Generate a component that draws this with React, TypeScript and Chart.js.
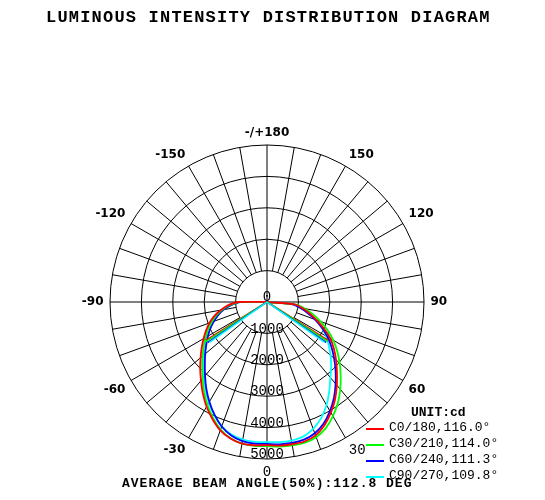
import { useEffect, useRef } from "react";
import { Chart, registerables, Plugin } from "chart.js";

Chart.register(...registerables);

// gamma angles (deg from nadir) that the intensity tables below are read at
const gammaSteps = [0, 5, 10, 15, 20, 25, 30, 35, 40, 45, 50, 55, 60, 65, 70, 75, 80, 85, 90];

// intensities in cd, right half of the diagram (C0, C30, C60, C90)
const c0 = [4560, 4590, 4600, 4600, 4520, 4330, 4070, 3780, 3460, 3150, 2870, 2600, 2330, 2000, 1680, 1400, 1150, 880, 0];
const c30 = [4590, 4620, 4640, 4640, 4580, 4430, 4200, 3930, 3630, 3320, 3020, 2730, 2440, 2130, 1820, 1520, 1230, 940, 0];
const c60 = [4520, 4550, 4560, 4540, 4450, 4270, 4010, 3720, 3400, 3090, 2790, 2510, 2230, 1930, 1620, 1330, 1070, 820, 0];
const c90 = [4460, 4480, 4480, 4440, 4300, 4080, 3790, 3460, 3140, 2890, 2640, 2400, 2170, 1920, 1650, 1370, 1110, 850, 0];

// left half of the diagram (C180, C210, C240, C270)
const c180 = [4560, 4580, 4580, 4500, 4350, 4110, 3850, 3560, 3270, 3010, 2760, 2540, 2330, 2140, 1950, 1740, 1500, 1250, 900];
const c210 = [4590, 4600, 4580, 4490, 4320, 4070, 3790, 3490, 3190, 2920, 2680, 2460, 2260, 2070, 1880, 1680, 1450, 1200, 880];
const c240 = [4520, 4530, 4500, 4400, 4220, 3960, 3670, 3370, 3070, 2800, 2570, 2360, 2170, 1990, 1800, 1610, 1400, 1150, 860];
const c270 = [4460, 4470, 4450, 4370, 4210, 3970, 3700, 3410, 3120, 2860, 2630, 2420, 2230, 2040, 1850, 1650, 1420, 1170, 860];

const seriesNames = ["C0/180", "C30/210", "C60/240", "C90/270"];
const beamAngles = [116.0, 114.0, 111.3, 109.8];
const halfIntensity = [2300, 2320, 2280, 2240];
const seriesColors = ["#ff0000", "#00ff00", "#0000ff", "#00ffff"];

const radialTicks = [0, 1000, 2000, 3000, 4000, 5000];
const angleTickLabels = ["0", "-30", "-60", "-90", "-120", "-150", "-/+180", "150", "120", "90", "60", "30"];

const titleText = "LUMINOUS INTENSITY DISTRIBUTION DIAGRAM";
const unitText = "UNIT:cd";
const footerText = "AVERAGE BEAM ANGLE(50%):112.8 DEG";

const STEP = 5;
const SLOTS = 360 / STEP;
// slot i runs clockwise from the bottom: left half first, then the right half
const directions = Array.from({ length: SLOTS }, (_, i) => (i <= SLOTS / 2 ? -STEP * i : 360 - STEP * i));

const MONO = '"Liberation Mono", "DejaVu Sans Mono", monospace';
const SANS = '"DejaVu Sans", sans-serif';
const GRID = "#000";

function valueAt(table: number[], gamma: number) {
  const k = gammaSteps.indexOf(gamma);
  return k < 0 ? 0 : table[k];
}

function planeData(right: number[], left: number[]) {
  return directions.map((d) => (d <= 0 ? valueAt(left, -d) : valueAt(right, d)));
}

const decor: Plugin<"radar"> = {
  id: "decor",
  beforeDatasetsDraw(chart) {
    const scale: any = chart.scales.r;
    const ctx = chart.ctx;
    const inner = scale.getDistanceFromCenterForValue(radialTicks[1]);
    const outer = scale.getDistanceFromCenterForValue(radialTicks[radialTicks.length - 1]);
    ctx.save();
    ctx.strokeStyle = GRID;
    ctx.lineWidth = 1;
    for (let i = 0; i < SLOTS; i += 2) {
      const from = i % (SLOTS / 4) === 0 ? 0 : inner;
      const a = scale.getPointPosition(i, from);
      const b = scale.getPointPosition(i, outer);
      ctx.beginPath();
      ctx.moveTo(a.x, a.y);
      ctx.lineTo(b.x, b.y);
      ctx.stroke();
    }
    ctx.restore();
  },
  afterDatasetsDraw(chart) {
    const scale: any = chart.scales.r;
    const ctx = chart.ctx;
    const cx = scale.xCenter;
    const cy = scale.yCenter;
    ctx.save();

    // beam angle lines (50% points)
    ctx.lineWidth = 1.5;
    beamAngles.forEach((beam, s) => {
      const half = beam / 2 / STEP;
      const dist = scale.getDistanceFromCenterForValue(halfIntensity[s]);
      ctx.strokeStyle = seriesColors[s];
      [half, SLOTS - half].forEach((idx) => {
        const p = scale.getPointPosition(idx, dist);
        ctx.beginPath();
        ctx.moveTo(cx, cy);
        ctx.lineTo(p.x, p.y);
        ctx.stroke();
      });
    });

    ctx.fillStyle = "#000";

    // radial tick labels along the nadir
    ctx.font = `14px ${MONO}`;
    ctx.textAlign = "center";
    ctx.textBaseline = "middle";
    radialTicks.forEach((v) => {
      const p = scale.getPointPosition(0, scale.getDistanceFromCenterForValue(v));
      ctx.fillText(String(v), p.x, p.y - 4.5);
    });

    // angle labels every 30 deg
    const labelR = scale.drawingArea + 6.5;
    angleTickLabels.forEach((text, k) => {
      const idx = k * 6;
      const p = scale.getPointPosition(idx, labelR);
      const deg = (idx * STEP) % 360;
      const mono = text === "0" || text === "30";
      ctx.font = mono ? `14px ${MONO}` : `bold 12px ${SANS}`;
      if (deg === 0 || deg === 180) ctx.textAlign = "center";
      else ctx.textAlign = deg < 180 ? "right" : "left";
      if (deg === 90 || deg === 270) ctx.textBaseline = "middle";
      else ctx.textBaseline = deg < 90 || deg > 270 ? "top" : "bottom";
      ctx.fillText(text, p.x, p.y);
    });

    // title
    ctx.textAlign = "left";
    ctx.textBaseline = "middle";
    ctx.font = `bold 17px ${MONO}`;
    (ctx as any).letterSpacing = "1.2px";
    ctx.fillText(titleText, 46, 18);

    // footer
    ctx.font = `bold 13px ${MONO}`;
    (ctx as any).letterSpacing = "1px";
    ctx.fillText(footerText, 122, 484);

    // legend
    (ctx as any).letterSpacing = "0px";
    ctx.font = `bold 13px ${MONO}`;
    ctx.fillText(unitText, 411, 412.5);
    ctx.font = `13px ${MONO}`;
    seriesNames.forEach((name, s) => {
      const y = 428 + s * 16;
      ctx.strokeStyle = seriesColors[s];
      ctx.lineWidth = 2;
      ctx.beginPath();
      ctx.moveTo(366, y + 1);
      ctx.lineTo(384, y + 1);
      ctx.stroke();
      ctx.fillStyle = "#000";
      ctx.fillText(`${name},${beamAngles[s].toFixed(1)}°`, 389, y);
    });

    ctx.restore();
  },
};

export default function App() {
  const canvasRef = useRef<HTMLCanvasElement>(null);
  const chartRef = useRef<Chart<"radar"> | null>(null);

  useEffect(() => {
    if (!canvasRef.current) return;
    if (chartRef.current) chartRef.current.destroy();

    const planes = [
      planeData(c0, c180),
      planeData(c30, c210),
      planeData(c60, c240),
      planeData(c90, c270),
    ];

    chartRef.current = new Chart(canvasRef.current, {
      type: "radar",
      data: {
        labels: directions.map(String),
        datasets: planes.map((data, s) => ({
          label: seriesNames[s],
          data,
          borderColor: seriesColors[s],
          backgroundColor: "transparent",
          borderWidth: 1.8,
          pointRadius: 0,
          fill: false,
          tension: 0.2,
        })),
      },
      options: {
        responsive: false,
        animation: false,
        layout: { padding: { left: 110, right: 121, top: 145, bottom: 41 } },
        plugins: {
          legend: { display: false },
          tooltip: { enabled: false },
        },
        scales: {
          r: {
            min: 0,
            max: 5000,
            startAngle: 180,
            ticks: { display: false, stepSize: 1000 },
            pointLabels: { display: false },
            angleLines: { display: false },
            grid: { circular: true, color: GRID, lineWidth: 1 },
          },
        },
      },
      plugins: [decor],
    });

    return () => {
      if (chartRef.current) {
        chartRef.current.destroy();
        chartRef.current = null;
      }
    };
  }, []);

  return (
    <div style={{ position: "absolute", left: 0, top: 0, width: 545, height: 500, background: "#fff" }}>
      <canvas ref={canvasRef} width={545} height={500} style={{ display: "block" }} />
    </div>
  );
}
